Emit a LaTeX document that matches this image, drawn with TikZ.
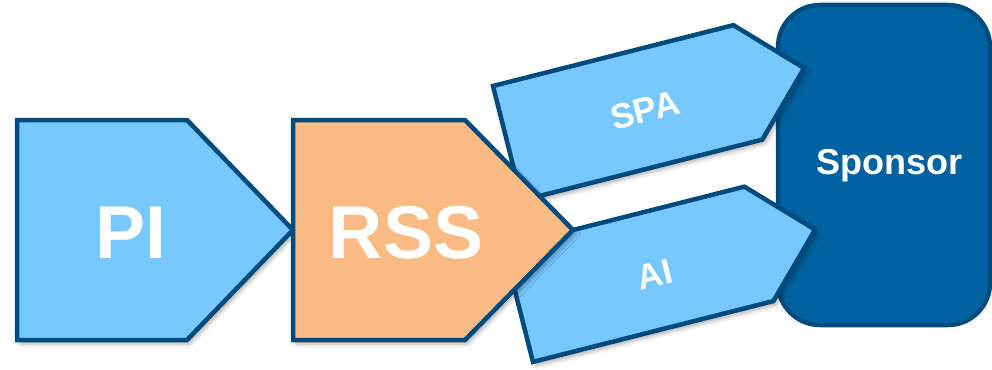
\documentclass[tikz,border=0pt]{standalone}
\usepackage{fontspec}
\setmainfont{Liberation Sans}
\usetikzlibrary{shadows.blur}
\definecolor{lightblue}{HTML}{76C8FE}
\definecolor{edgeblue}{HTML}{004B7D}
\definecolor{rssorange}{HTML}{F9BB83}
\definecolor{sponsorblue}{HTML}{0062A1}
\begin{document}
\begin{tikzpicture}[x=1pt,y=-1pt,line join=miter,
  softshadow/.style={blur shadow={shadow xshift=3pt,shadow yshift=-4pt,shadow blur radius=4pt,shadow opacity=30}},
  bluebox/.style={fill=lightblue,draw=edgeblue,line width=4.5pt,softshadow},
  orangebox/.style={fill=rssorange,draw=edgeblue,line width=4.5pt,softshadow},
  sponsorbox/.style={fill=sponsorblue,draw=edgeblue,line width=4.5pt,rounded corners=42pt},
  bigtext/.style={text=white,font=\bfseries\fontsize{75}{80}\selectfont,inner sep=0pt},
  smalltext/.style={text=white,font=\bfseries\fontsize{35}{40}\selectfont,inner sep=0pt,rotate=14.2},
  sponsortext/.style={text=white,font=\bfseries\fontsize{36}{40}\selectfont,inner sep=0pt}]
\useasboundingbox (0,0) rectangle (992,369);
% Sponsor
\draw[sponsorbox] (778,5) rectangle (990,325);
\node[sponsortext] (sponsor) at (889,166) {Sponsor};
% SPA arrow
\begin{scope}[shift={(493,86)},rotate=14.2]
\draw[bluebox] (0,0) coordinate (spaA) -- (248,0) -- (306,59) coordinate (spatip) -- (248,118) -- (0,118) -- cycle;
\end{scope}
\node[smalltext] (spa) at (645,110) {SPA};
% AI arrow
\begin{scope}[shift={(504,247.5)},rotate=14.2]
\draw[bluebox] (0,0) coordinate (aiA) -- (248,0) -- (306,59) coordinate (aitip) -- (248,118) -- (0,118) -- cycle;
\end{scope}
\node[smalltext] (ai) at (655,275) {AI};
% PI
\draw[bluebox] (17,120) -- (187,120) -- (293,230) coordinate (pitip) -- (187,340) -- (17,340) -- cycle;
\node[bigtext,anchor=base] (pi) at (131,258) {PI};
% RSS
\draw[orangebox] (293,120) -- (465,120) -- (573,230) coordinate (rsstip) -- (465,340) -- (293,340) -- cycle;
\node[bigtext,anchor=base] (rss) at (406,258) {RSS};
\end{tikzpicture}
\end{document}
